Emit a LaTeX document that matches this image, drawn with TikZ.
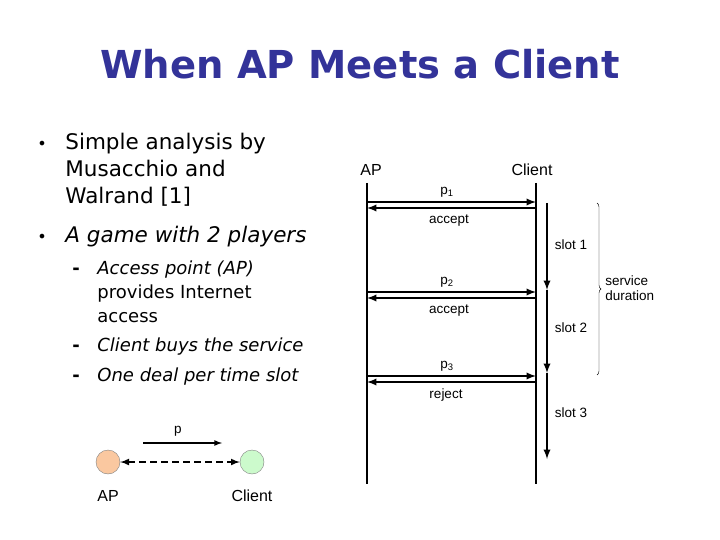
\documentclass[tikz,border=0pt]{standalone}
\usepackage{fontspec}
\setmainfont{Liberation Sans}
\newfontfamily\slidefont{DejaVu Sans}
\usetikzlibrary{arrows}
\usetikzlibrary{decorations.pathreplacing}

\definecolor{titleblue}{RGB}{51,51,153}
\definecolor{apfill}{RGB}{250,200,160}
\definecolor{clfill}{RGB}{204,250,204}

\tikzset{
  slidetitle/.style={font=\slidefont\bfseries\fontsize{38.5}{42}\selectfont, text=titleblue},
  mainline/.style={anchor=base west, inner sep=0pt, font=\slidefont\fontsize{21.5}{24}\selectfont},
  subline/.style={anchor=base west, inner sep=0pt, font=\slidefont\fontsize{18}{20}\selectfont},
  mainmark/.style={anchor=base, inner sep=0pt, font=\slidefont\fontsize{16}{20}\selectfont},
  submark/.style={anchor=base, inner sep=0pt, font=\slidefont\bfseries\fontsize{18}{20}\selectfont},
  head/.style={font=\fontsize{16}{18}\selectfont},
  msgtext/.style={font=\fontsize{13.5}{15}\selectfont, inner sep=1pt},
  msg/.style={line width=2.2pt, -latex},
  life/.style={line width=1.2pt},
}

\begin{document}
\begin{tikzpicture}[x=1pt, y=-1pt, thick]
  \useasboundingbox (0,0) rectangle (720,540);

  \node[slidetitle] (title) at (360,64) {When AP Meets a Client};

  % bullet list
  \node[mainmark] (b1) at (42,150) {•};
  \node[mainline] (l1) at (65,150) {Simple analysis by};
  \node[mainline] (l2) at (65,177) {Musacchio and};
  \node[mainline] (l3) at (65,204) {Walrand [1]};
  \node[mainmark] (b2) at (42,242) {•};
  \node[mainline] (l4) at (65,242) {\itshape A game with 2 players};
  \node[submark] (d1) at (76,274) {-};
  \node[subline] (s1) at (97,274) {\itshape Access point (AP)};
  \node[subline] (s2) at (97,298) {provides Internet};
  \node[subline] (s3) at (97,322) {access};
  \node[submark] (d2) at (76,351) {-};
  \node[subline] (s4) at (97,351) {\itshape Client buys the service};
  \node[submark] (d3) at (76,381) {-};
  \node[subline] (s5) at (97,381) {\itshape One deal per time slot};

  % time diagram
  \node[head] (apHead) at (371,170) {AP};
  \node[head] (clHead) at (532,170) {Client};
  \coordinate (apTop) at (367,183);
  \coordinate (apEnd) at (367,484);
  \coordinate (clTop) at (536,183);
  \coordinate (clEnd) at (536,484);
  \draw[life] (apTop) -- (apEnd);
  \draw[life] (clTop) -- (clEnd);

  \foreach \y/\n in {202/1, 292/2, 376/3}{
    \coordinate (apq\n) at (367,\y);
    \coordinate (clq\n) at (536,\y);
    \coordinate (apr\n) at (367,\y+6);
    \coordinate (clr\n) at (536,\y+6);
    \draw[msg] (apq\n) -- (clq\n);
    \draw[msg] (clr\n) -- (apr\n);
    \node[msgtext] (price\n) at (447,\y-10) {p\textsubscript{\n}};
  }
  \node[msgtext] (ans1) at (449,221) {accept};
  \node[msgtext] (ans2) at (449,311) {accept};
  \node[msgtext] (ans3) at (446,395) {reject};

  % slots
  \coordinate (t0) at (547,203);
  \coordinate (t1) at (547,290);
  \coordinate (t2) at (547,373);
  \coordinate (t3) at (547,459);
  \draw[msg] (t0) -- (t1);
  \draw[msg] (t1) -- (t2);
  \draw[msg] (t2) -- (t3);
  \node[msgtext] (slot1) at (571,245) {slot 1};
  \node[msgtext] (slot2) at (571,328) {slot 2};
  \node[msgtext] (slot3) at (571,413) {slot 3};

  \coordinate (brTop) at (597,203);
  \coordinate (brEnd) at (597,375);
  \draw[thin, decorate, decoration={brace, amplitude=4pt}] (brTop) -- (brEnd);
  \node[msgtext, anchor=west, align=left] (dur) at (604,288) {service\\duration};

  % two players
  \node[circle, draw=gray, thin, fill=apfill, minimum size=24pt, inner sep=0pt] (ap) at (108,462) {};
  \node[circle, draw=gray, thin, fill=clfill, minimum size=24pt, inner sep=0pt] (cl) at (252,462) {};
  \draw[line width=2pt, dash pattern=on 7pt off 4pt, latex-latex] (ap) -- (cl);
  \coordinate (pStart) at (143,443);
  \coordinate (pEnd) at (222,443);
  \draw[line width=1.6pt, -latex] (pStart) -- (pEnd);
  \node[msgtext] (pLabel) at (178,431) {p};
  \node[head] (apName) at (108,496) {AP};
  \node[head] (clName) at (252,496) {Client};
\end{tikzpicture}
\end{document}
